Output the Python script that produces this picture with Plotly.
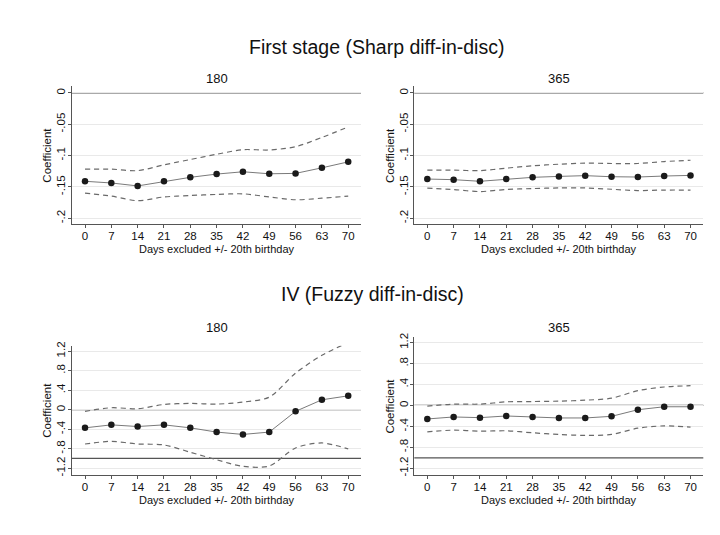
import plotly.graph_objects as go

days = [0, 7, 14, 21, 28, 35, 42, 49, 56, 63, 70]

fs180_coef = [-0.141, -0.1437, -0.1484, -0.141, -0.1347, -0.1295, -0.1258, -0.129, -0.1284, -0.1195, -0.110]
fs180_hi = [-0.1216, -0.1216, -0.124, -0.1147, -0.1063, -0.0979, -0.0905, -0.091, -0.0858, -0.071, -0.0542]
fs180_lo = [-0.160, -0.1647, -0.172, -0.166, -0.1637, -0.162, -0.161, -0.166, -0.1705, -0.168, -0.1647]

fs365_coef = [-0.1374, -0.1384, -0.141, -0.1374, -0.1347, -0.1332, -0.132, -0.1337, -0.1342, -0.1326, -0.1316]
fs365_hi = [-0.1232, -0.1232, -0.124, -0.12, -0.1163, -0.1137, -0.112, -0.1126, -0.1126, -0.1095, -0.1074]
fs365_lo = [-0.152, -0.1542, -0.1574, -0.154, -0.1526, -0.1516, -0.1516, -0.1537, -0.1558, -0.155, -0.155]

iv180_coef = [-0.372, -0.311, -0.345, -0.311, -0.372, -0.459, -0.507, -0.459, -0.034, 0.203, 0.284]
iv180_hi = [-0.034, 0.04, 0.02, 0.108, 0.128, 0.115, 0.155, 0.257, 0.75, 1.115, 1.378]
iv180_lo = [-0.703, -0.649, -0.703, -0.723, -0.872, -1.027, -1.162, -1.155, -0.784, -0.682, -0.804]

iv365_coef = [-0.258, -0.22, -0.233, -0.201, -0.22, -0.239, -0.239, -0.208, -0.082, -0.025, -0.025]
iv365_hi = [-0.013, 0.025, 0.025, 0.069, 0.075, 0.082, 0.1, 0.138, 0.283, 0.352, 0.377]
iv365_lo = [-0.503, -0.472, -0.491, -0.484, -0.522, -0.553, -0.572, -0.553, -0.434, -0.39, -0.415]

fs_ticks = [0, -0.05, -0.1, -0.15, -0.2]
fs_ticktext = ["0", "-.05", "-.1", "-.15", "-.2"]
iv_ticks = [-1.2, -0.8, -0.4, 0, 0.4, 0.8, 1.2]
iv_ticktext = ["-1.2", "-.8", "-.4", "0", ".4", ".8", "1.2"]

fs_reflines = [0]
iv_reflines = [0, -1]

panel_titles = ["180", "365", "180", "365"]
section_titles = ["First stage (Sharp diff-in-disc)", "IV (Fuzzy diff-in-disc)"]
x_title = "Days excluded +/- 20th birthday"
y_title = "Coefficient"

FONT = "Liberation Sans, Arial, Helvetica, sans-serif"
W, H = 720, 535

panels = [
    (fs180_coef, fs180_hi, fs180_lo, fs_ticks, fs_ticktext, fs_reflines, [-0.2095, 0.011], (72, 361), (83, 222.7)),
    (fs365_coef, fs365_hi, fs365_lo, fs_ticks, fs_ticktext, fs_reflines, [-0.2095, 0.011], (414.3, 703.3), (83, 222.7)),
    (iv180_coef, iv180_hi, iv180_lo, iv_ticks, iv_ticktext, iv_reflines, [-1.332, 1.3095], (72, 361), (345.7, 476)),
    (iv365_coef, iv365_hi, iv365_lo, iv_ticks, iv_ticktext, iv_reflines, [-1.321, 1.3075], (414.3, 703.3), (336.7, 476)),
]

fig = go.Figure()
layout = {}
annotations = []
line_gray = "#6a6a6a"

for i, (coef, hi, lo, tv, tt, refs, yr, (x0, x1), (yt, yb)) in enumerate(panels):
    n = "" if i == 0 else str(i + 1)
    xa, ya = "x" + n, "y" + n
    for ser in (hi, lo):
        fig.add_trace(go.Scatter(x=days, y=ser, xaxis=xa, yaxis=ya, mode="lines",
                                 line=dict(color=line_gray, width=1.2, dash="5px,4px", shape="spline", smoothing=0.8),
                                 showlegend=False, hoverinfo="skip"))
    fig.add_trace(go.Scatter(x=days, y=coef, xaxis=xa, yaxis=ya, mode="lines+markers",
                             line=dict(color="#7a7a7a", width=1),
                             marker=dict(color="#1a1a1a", size=6.5),
                             showlegend=False))
    for r in refs:
        fig.add_shape(type="line", xref=xa + " domain", yref=ya, x0=0, x1=1, y0=r, y1=r,
                      line=dict(color="#555555", width=1.3), layer="below")
    layout["xaxis" + n] = dict(
        domain=[x0 / W, x1 / W], anchor=ya, range=[-3.46, 73.4],
        tickvals=days, ticktext=[str(d) for d in days],
        ticks="outside", ticklen=3, tickcolor="#555", tickwidth=1,
        showline=True, linecolor="#555", linewidth=1.2, showgrid=False, zeroline=False,
        ticklabelstandoff=-2,
        tickfont=dict(size=11.5, color="#111", family=FONT),
    )
    layout["yaxis" + n] = dict(
        domain=[1 - yb / H, 1 - yt / H], anchor=xa, range=yr,
        tickvals=tv, ticktext=tt, tickangle=-90,
        ticks="outside", ticklen=3, tickcolor="#555", tickwidth=1,
        showline=True, linecolor="#555", linewidth=1.2,
        showgrid=True, gridcolor="#e9e9e9", gridwidth=1, zeroline=False,
        ticklabelstandoff=-2,
        tickfont=dict(size=11.5, color="#111", family=FONT),
    )
    # axis titles
    annotations.append(dict(text=x_title, x=(x0 + x1) / 2 / W, y=1 - (yb + 25.5) / H,
                            xref="paper", yref="paper", showarrow=False,
                            xanchor="center", yanchor="middle",
                            font=dict(size=11, color="#111", family=FONT)))
    annotations.append(dict(text=y_title, x=(x0 - 24.5) / W, y=1 - (yt + yb) / 2 / H,
                            xref="paper", yref="paper", showarrow=False, textangle=-90,
                            xanchor="center", yanchor="middle",
                            font=dict(size=11.5, color="#111", family=FONT)))

centers = [(216.5, 75), (558.8, 75), (216.5, 327), (558.8, 327)]
for t, (cx, cy) in zip(panel_titles, centers):
    annotations.append(dict(text=t, x=cx / W, y=1 - cy / H, xref="paper", yref="paper",
                            showarrow=False, xanchor="center", yanchor="middle",
                            font=dict(size=13, color="#111", family=FONT)))
for t, (cx, cy) in zip(section_titles, [(376, 43.5), (372.5, 293)]):
    annotations.append(dict(text=t, x=cx / W, y=1 - cy / H, xref="paper", yref="paper",
                            showarrow=False, xanchor="center", yanchor="middle",
                            font=dict(size=19.5, color="#111", family=FONT)))

fig.update_layout(
    width=W, height=H, margin=dict(l=0, r=0, t=0, b=0),
    paper_bgcolor="white", plot_bgcolor="white",
    annotations=annotations, **layout,
)

fig.write_html("out.html")
